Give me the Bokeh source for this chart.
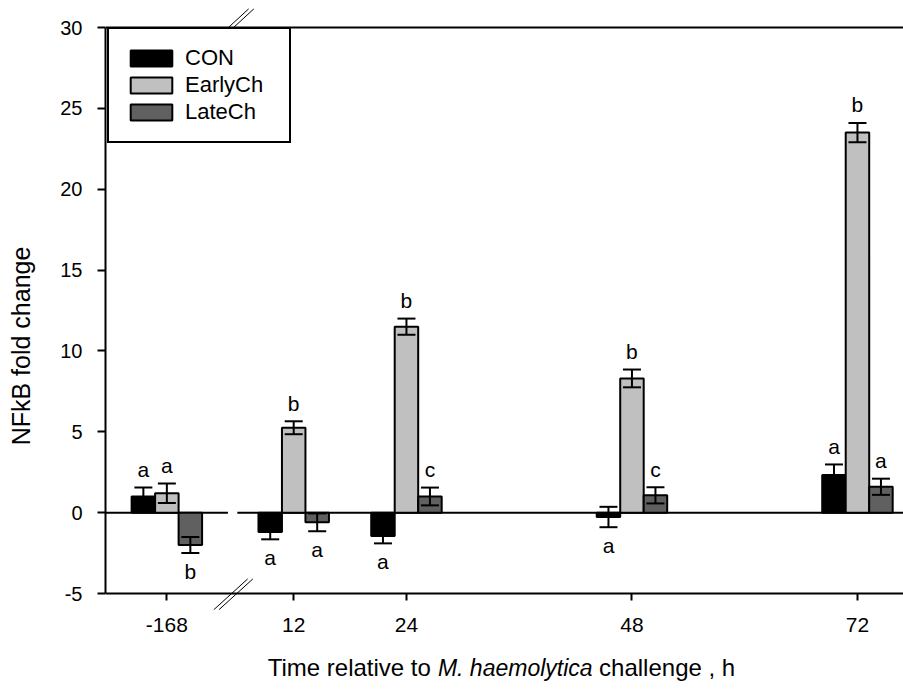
from bokeh.plotting import figure
from bokeh.models import (Range1d, FixedTicker, ColumnDataSource, Whisker, TeeHead,
                          Label, Legend, LegendItem, Span)
from bokeh.core.properties import value
from bokeh.embed import file_html
from bokeh.resources import INLINE

# ---------------- data ----------------
hours = [-168, 12, 24, 48, 72]
tick_labels = ["-168", "12", "24", "48", "72"]
series = ["CON", "EarlyCh", "LateCh"]
con = [1.0, -1.2, -1.45, -0.27, 2.33]
con_err = [0.55, 0.45, 0.45, 0.63, 0.65]
early = [1.2, 5.25, 11.5, 8.3, 23.5]
early_err = [0.6, 0.4, 0.5, 0.55, 0.6]
late = [-2.0, -0.6, 1.0, 1.07, 1.6]
late_err = [0.5, 0.55, 0.55, 0.5, 0.5]
con_letters = ["a", "a", "a", "a", "a"]
early_letters = ["a", "b", "b", "b", "b"]
late_letters = ["b", "a", "c", "c", "a"]
y_ticks = [-5, 0, 5, 10, 15, 20, 25, 30]
colors = ["#000000", "#C0C0C0", "#606060"]

FONT = "Liberation Sans"
Y_MIN, Y_MAX = -5, 30          # value axis extent
BREAK = 5.5                    # axis position of the broken-axis gap
PRE_BREAK_POS = -1.5           # axis position used for the -168 h group
BAR_W = 2.5


def axis_pos(h):
    return h if h > 0 else PRE_BREAK_POS


positions = [axis_pos(h) for h in hours]

# frame covers the whole canvas height so that the title & break marks can live in it
p = figure(width=903, height=691, output_backend="svg", toolbar_location=None,
           x_range=Range1d(-8.03, 76.9), y_range=Range1d(-11.06, 31.67),
           min_border_left=105, min_border_right=0, min_border_top=0,
           min_border_bottom=0)
p.outline_line_color = None
p.xgrid.visible = False
p.ygrid.visible = False
p.background_fill_color = "white"

# zero line with gap at the break
p.segment(x0=[p.x_range.start, BREAK + 0.5], y0=[0, 0],
          x1=[BREAK - 0.5, p.x_range.end], y1=[0, 0],
          line_color="black", line_width=2)

renderers = []
all_vals = [con, early, late]
all_errs = [con_err, early_err, late_err]
all_letters = [con_letters, early_letters, late_letters]
for i, (name, vals, errs, lets, col) in enumerate(zip(series, all_vals, all_errs, all_letters, colors)):
    off = (i - 1) * BAR_W
    xs = [x + off for x in positions]
    src = ColumnDataSource(dict(
        x=xs, top=vals,
        lo=[v - e for v, e in zip(vals, errs)],
        hi=[v + e for v, e in zip(vals, errs)],
        ly=[v + e if v >= 0 else v - e for v, e in zip(vals, errs)],
        yoff=[-18 if v >= 0 else 18 for v in vals],
        lab=lets,
    ))
    r = p.vbar(x="x", top="top", bottom=0, width=BAR_W, source=src,
               fill_color=col, line_color="black", line_width=2)
    renderers.append(r)
    w = Whisker(source=src, base="x", lower="lo", upper="hi", line_width=2,
                line_color="black", level="annotation",
                upper_head=TeeHead(size=18, line_width=2, line_color="black"),
                lower_head=TeeHead(size=18, line_width=2, line_color="black"))
    p.add_layout(w)
    p.text(x="x", y="ly", text="lab", y_offset="yoff", source=src,
           text_align="center", text_baseline="middle",
           text_font=value(FONT), text_font_size="21px", text_color="black")

# top frame line
p.add_layout(Span(location=Y_MAX, dimension="width", line_color="black", line_width=2))

# break marks (two thin parallel strokes, bottom and top)
bx0, by0, bx1, by1 = [], [], [], []
for dx in (0.0, 0.55):
    bx0 += [BREAK - 2.0 + dx, BREAK - 0.45 + dx]
    by0 += [Y_MIN - 1.0, Y_MAX]
    bx1 += [BREAK + 1.6 + dx, BREAK + 1.7 + dx]
    by1 += [Y_MIN + 0.9, Y_MAX + 1.15]
p.segment(x0=bx0, y0=by0, x1=bx1, y1=by1, line_color="black", line_width=1)

# axes
xa = p.xaxis[0]
ya = p.yaxis[0]
xa.fixed_location = Y_MIN
ya.bounds = (Y_MIN, Y_MAX)
xa.ticker = FixedTicker(ticks=positions)
xa.major_label_overrides = {pos: lab for pos, lab in zip(positions, tick_labels)}
ya.ticker = FixedTicker(ticks=y_ticks)
ya.major_label_overrides = {t: str(t) for t in y_ticks}
for ax in (xa, ya):
    ax.axis_line_width = 2
    ax.axis_line_color = "black"
    ax.major_tick_line_width = 2
    ax.major_tick_line_color = "black"
    ax.major_tick_in = 0
    ax.minor_tick_line_color = None
    ax.major_label_text_font = FONT
    ax.major_label_text_color = "black"
xa.major_tick_out = 7
ya.major_tick_out = 8
xa.major_label_text_font_size = "21px"
ya.major_label_text_font_size = "20px"
xa.major_label_standoff = 17
ya.major_label_standoff = 15
ya.axis_label = "NFkB fold change"
ya.axis_label_text_font = FONT
ya.axis_label_text_font_size = "25px"
ya.axis_label_text_font_style = "normal"
ya.axis_label_text_color = "black"
ya.axis_label_standoff = 22

# x-axis title with italic species name (three pieces laid side by side)
lab_y = Y_MIN - 4.6
p.add_layout(Label(x=26.6, y=lab_y, text="Time relative to", text_font=FONT,
                   text_font_size="24px", text_baseline="middle", text_align="right",
                   text_color="black"))
p.add_layout(Label(x=27.35, y=lab_y, text="M. haemolytica", text_font=FONT,
                   text_font_size="23px", text_font_style="italic",
                   text_baseline="middle", text_align="left", text_color="black"))
p.add_layout(Label(x=44.5, y=lab_y, text="challenge , h", text_font=FONT,
                   text_font_size="24px", text_baseline="middle", text_align="left",
                   text_color="black"))

legend = Legend(items=[LegendItem(label=s, renderers=[r]) for s, r in zip(series, renderers)],
                location=(2, 548))
legend.label_text_font = FONT
legend.label_text_font_size = "22px"
legend.label_text_color = "black"
legend.border_line_color = "black"
legend.border_line_alpha = 1.0
legend.border_line_width = 2
legend.background_fill_alpha = 1.0
legend.glyph_width = 52
legend.glyph_height = 20
legend.label_height = 20
legend.label_width = 88
legend.label_standoff = 8
legend.padding = 16
legend.spacing = 1
legend.margin = 0
p.add_layout(legend)

open("out.html", "w").write(file_html(p, INLINE))
